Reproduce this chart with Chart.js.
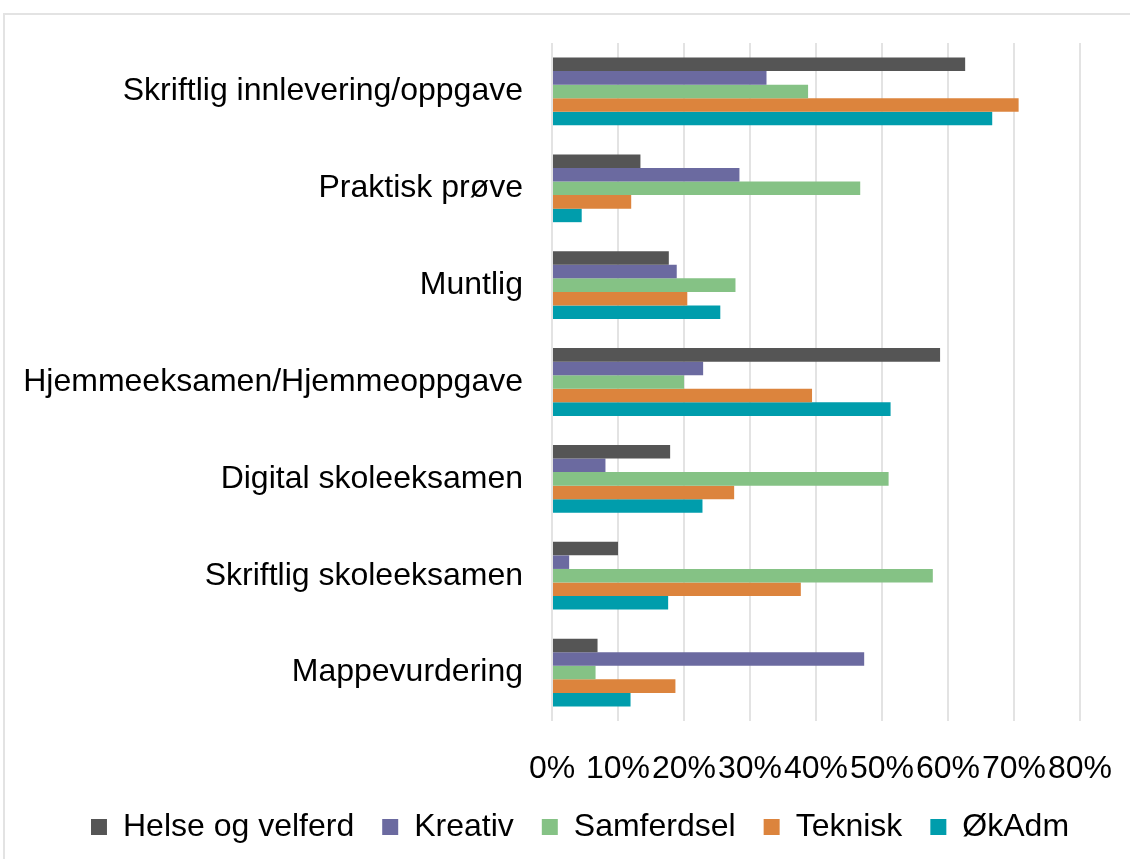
<!DOCTYPE html>
<html>
<head>
<meta charset="utf-8">
<script src="https://cdn.jsdelivr.net/npm/chart.js@4"></script>
<style>
  html, body { margin: 0; padding: 0; background: #fff; }
  #wrap { position: relative; width: 1130px; height: 859px; }
  #frame {
    position: absolute; left: 3px; top: 13px; width: 1140px; height: 860px;
    border-left: 2px solid #e3e3e3; border-top: 2px solid #e3e3e3;
    pointer-events: none;
  }
</style>
</head>
<body>
<div id="wrap">
  <canvas id="chart" width="1130" height="859"></canvas>
  <div id="frame"></div>
</div>
<script>
// ===== Eksamensformer per fagområde - horizontal grouped bar =====

const categories = [
    'Skriftlig innlevering/oppgave',
    'Praktisk prøve',
    'Muntlig',
    'Hjemmeeksamen/Hjemmeoppgave',
    'Digital skoleeksamen',
    'Skriftlig skoleeksamen',
    'Mappevurdering',
];

const seriesNames = ['Helse og velferd', 'Kreativ', 'Samferdsel', 'Teknisk', 'ØkAdm'];
const seriesColors = ['#555555', '#6b6aa0', '#85c285', '#dc843d', '#009dac'];

// values in percent
const helse      = [62.6, 13.4, 17.7, 58.8, 17.9, 10.0, 6.9];
const kreativ    = [32.5, 28.4, 18.9, 22.9, 8.1, 2.6, 47.3];
const samferdsel = [38.8, 46.7, 27.8, 20.0, 51.0, 57.7, 6.6];
const teknisk    = [70.7, 12.0, 20.5, 39.4, 27.6, 37.7, 18.7];
const okadm      = [66.7, 4.5, 25.5, 51.3, 22.8, 17.6, 11.9];

const xTicks = [0, 10, 20, 30, 40, 50, 60, 70, 80];

const FONT = { family: 'Liberation Sans, Arial, sans-serif', size: 32 };

const datasets = [helse, kreativ, samferdsel, teknisk, okadm].map((data, i) => ({
    label: seriesNames[i],
    data,
    backgroundColor: seriesColors[i],
    borderWidth: 0,
    categoryPercentage: 0.7,
    barPercentage: 1.0,
}));

/** Nudge the legend a bit to the right, like the original */
const legendShift = {
    id: 'legendShift',
    afterLayout(chart) {
        chart.legend.left += 40;
        chart.legend.right += 40;
    },
};

new Chart(document.getElementById('chart'), {
    type: 'bar',
    data: { labels: categories, datasets },
    plugins: [legendShift],
    options: {
        indexAxis: 'y',
        responsive: false,
        animation: false,
        layout: { padding: { top: 43, right: 50, bottom: 6, left: 0 } },
        plugins: {
            legend: {
                position: 'bottom',
                labels: {
                    color: '#000',
                    font: FONT,
                    boxWidth: 16,
                    boxHeight: 16,
                    padding: 28,
                },
            },
            tooltip: { enabled: false },
        },
        scales: {
            x: {
                min: 0,
                max: 80,
                afterBuildTicks: (scale) => { scale.ticks = xTicks.map(v => ({ value: v })); },
                afterFit: (scale) => {
                    scale.height = 62;
                    scale.paddingLeft = 0;
                    scale.paddingRight = 0;
                },
                grid: { color: '#e3e3e3', lineWidth: 2, drawTicks: false },
                border: { display: false },
                ticks: {
                    color: '#000',
                    font: FONT,
                    padding: 29,
                    autoSkip: false,
                    maxRotation: 0,
                    callback: (v) => v + '%',
                },
            },
            y: {
                afterFit: (scale) => {
                    scale.width = 552;
                    scale.paddingTop = 0;
                    scale.paddingBottom = 0;
                },
                grid: { display: false, drawTicks: false },
                border: { display: false },
                ticks: {
                    color: '#000',
                    font: FONT,
                    padding: 29,
                    autoSkip: false,
                },
            },
        },
    },
});
</script>
</body>
</html>
